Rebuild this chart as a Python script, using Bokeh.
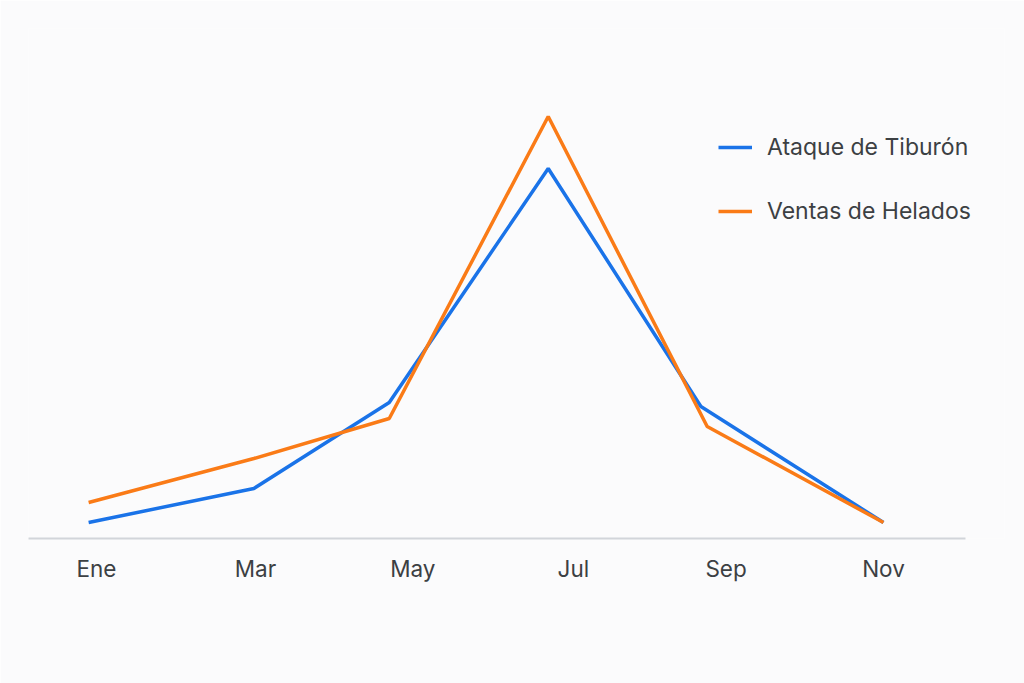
import numpy as np
from bokeh.models import ColumnDataSource, Range1d, Legend, LegendItem, FixedTicker
from bokeh.plotting import figure
from bokeh.embed import file_html
from bokeh.resources import INLINE

# month labels and where they sit on the x axis
months = ["Ene", "Mar", "May", "Jul", "Sep", "Nov"]
month_pos = [0, 1.01, 2.01, 3.03, 4.0, 5.0]

# series (x positions, values in arbitrary units)
shark_x = [-0.05, 1.0, 1.86, 2.87, 3.84, 5.0]
shark_y = [4, 12.5, 34, 92.5, 33, 4]
icecream_x = [-0.05, 1.0, 1.86, 2.87, 3.88, 5.0]
icecream_y = [9, 20, 30, 105.5, 28, 4]

FONT = "Inter"
TEXT = "#3c4043"

# frame reaches further right than the axis so the legend is not clipped
p = figure(width=1024, height=683, output_backend="svg", toolbar_location=None,
           x_range=Range1d(-0.432, 5.769), y_range=Range1d(0, 127.5),
           min_border_left=28, min_border_right=20, min_border_top=28, min_border_bottom=145)

p.background_fill_color = "#fbfbfc"
p.border_fill_color = "#fbfbfc"
p.outline_line_color = None
p.grid.grid_line_color = None
p.yaxis.visible = False

src_a = ColumnDataSource(data={"x": shark_x, "y": shark_y})
src_b = ColumnDataSource(data={"x": icecream_x, "y": icecream_y})

r_a = p.line("x", "y", source=src_a, line_color="#1a73e8", line_width=3.5)
r_b = p.line("x", "y", source=src_b, line_color="#fa7b17", line_width=3.5)

ax = p.xaxis[0]
ax.bounds = (-0.432, 5.521)
ax.ticker = FixedTicker(ticks=month_pos)
ax.major_label_overrides = {t: m for t, m in zip(month_pos, months)}
ax.axis_line_color = "#d2d5da"
ax.axis_line_width = 2
ax.major_tick_line_color = None
ax.minor_tick_line_color = None
ax.major_label_standoff = 10
ax.major_label_text_font = FONT
ax.major_label_text_font_size = "22.5px"
ax.major_label_text_color = TEXT

legend = Legend(items=[LegendItem(label="Ataque de Tiburón", renderers=[r_a]),
                       LegendItem(label="Ventas de Helados", renderers=[r_b])],
                location=(690, 307))
legend.padding = 0
legend.margin = 0
legend.spacing = 24
legend.glyph_width = 34
legend.glyph_height = 40
legend.label_height = 40
legend.label_standoff = 15
legend.border_line_color = None
legend.background_fill_alpha = 0
legend.label_text_font = FONT
legend.label_text_font_size = "23px"
legend.label_text_color = TEXT
p.add_layout(legend, "center")

open("out.html", "w").write(file_html(p, INLINE))
